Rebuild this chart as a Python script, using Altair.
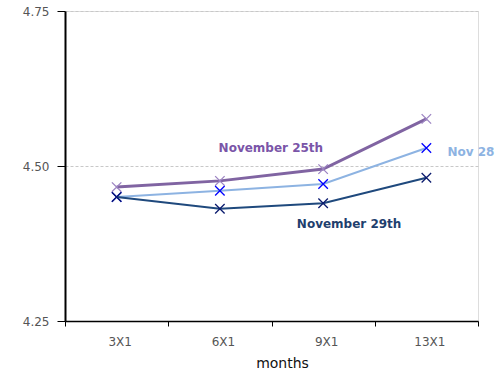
import altair as alt
import pandas as pd

months = ["3X1", "6X1", "9X1", "13X1"]
nov25 = [4.466, 4.476, 4.495, 4.576]
nov28 = [4.450, 4.460, 4.471, 4.529]
nov29 = [4.450, 4.431, 4.440, 4.481]

series = [
    ("November 25th", nov25, "#8064A2", "#9C84C2", 3.0),
    ("Nov 28", nov28, "#8DB3E2", "#0000FF", 2.0),
    ("November 29th", nov29, "#1F497D", "#0A1A6E", 2.0),
]

labels_text = ["November 25th", "Nov 28", "November 29th"]
labels_month = ["6X1", "13X1", "9X1"]
labels_y = [4.529, 4.523, 4.406]
labels_dx = [51, 21, 26]
labels_align = ["center", "left", "center"]
labels_color = ["#7A55A8", "#8DB3E2", "#1F3F6E"]

x_enc = alt.X("month:N", sort=months, title="months",
              scale=alt.Scale(domain=months, paddingInner=0, paddingOuter=0),
              axis=alt.Axis(tickBand="extent", labelAngle=0, labelColor="#555555",
                            labelFontSize=12, labelFont="DejaVu Sans", labelPadding=10,
                            labelOffset=3,
                            titleFont="DejaVu Sans", titleFontSize=14, titleFontWeight="normal",
                            titleColor="#111111", titlePadding=9, titleX=217,
                            domainColor="black", domainWidth=1.5, tickColor="black",
                            tickSize=5, grid=False))
y_enc = alt.Y("value:Q", title=None,
              scale=alt.Scale(domain=[4.25, 4.75], zero=False, nice=False),
              axis=alt.Axis(values=[4.25, 4.5, 4.75], format=".2f", labelColor="#555555",
                            labelFontSize=12, labelFont="DejaVu Sans", labelPadding=8,
                            domainColor="black", domainWidth=2, tickColor="black",
                            tickSize=8, grid=True, gridColor="#c8c8c8", gridDash=[3, 2],
                            gridWidth=1))

layers = []
for name, vals, lc, mc, sw in series:
    df = pd.DataFrame({"month": months, "value": vals, "series": name})
    base = alt.Chart(df)
    layers.append(base.mark_line(color=lc, strokeWidth=sw).encode(x=x_enc, y=y_enc))
    layers.append(base.mark_point(shape="M-1,-1L1,1M-1,1L1,-1", filled=False, color=mc,
                                  strokeWidth=1.3, size=90, opacity=1).encode(x=x_enc, y=y_enc))

for t, m, yv, dx, al, c in zip(labels_text, labels_month, labels_y, labels_dx, labels_align, labels_color):
    df = pd.DataFrame({"month": [m], "value": [yv], "label": [t]})
    layers.append(alt.Chart(df).mark_text(dx=dx, align=al, baseline="middle", color=c,
                                          font="DejaVu Sans", fontSize=12, fontWeight="bold")
                  .encode(x=x_enc, y=y_enc, text="label:N"))

chart = alt.layer(*layers).properties(
    width=413, height=310,
    autosize=alt.AutoSizeParams(type="none"),
    padding={"left": 65, "top": 11, "right": 24, "bottom": 52},
).configure_view(stroke=None).configure(background="white")

chart.save("out.html", embed_options={"renderer": "svg", "actions": False})
